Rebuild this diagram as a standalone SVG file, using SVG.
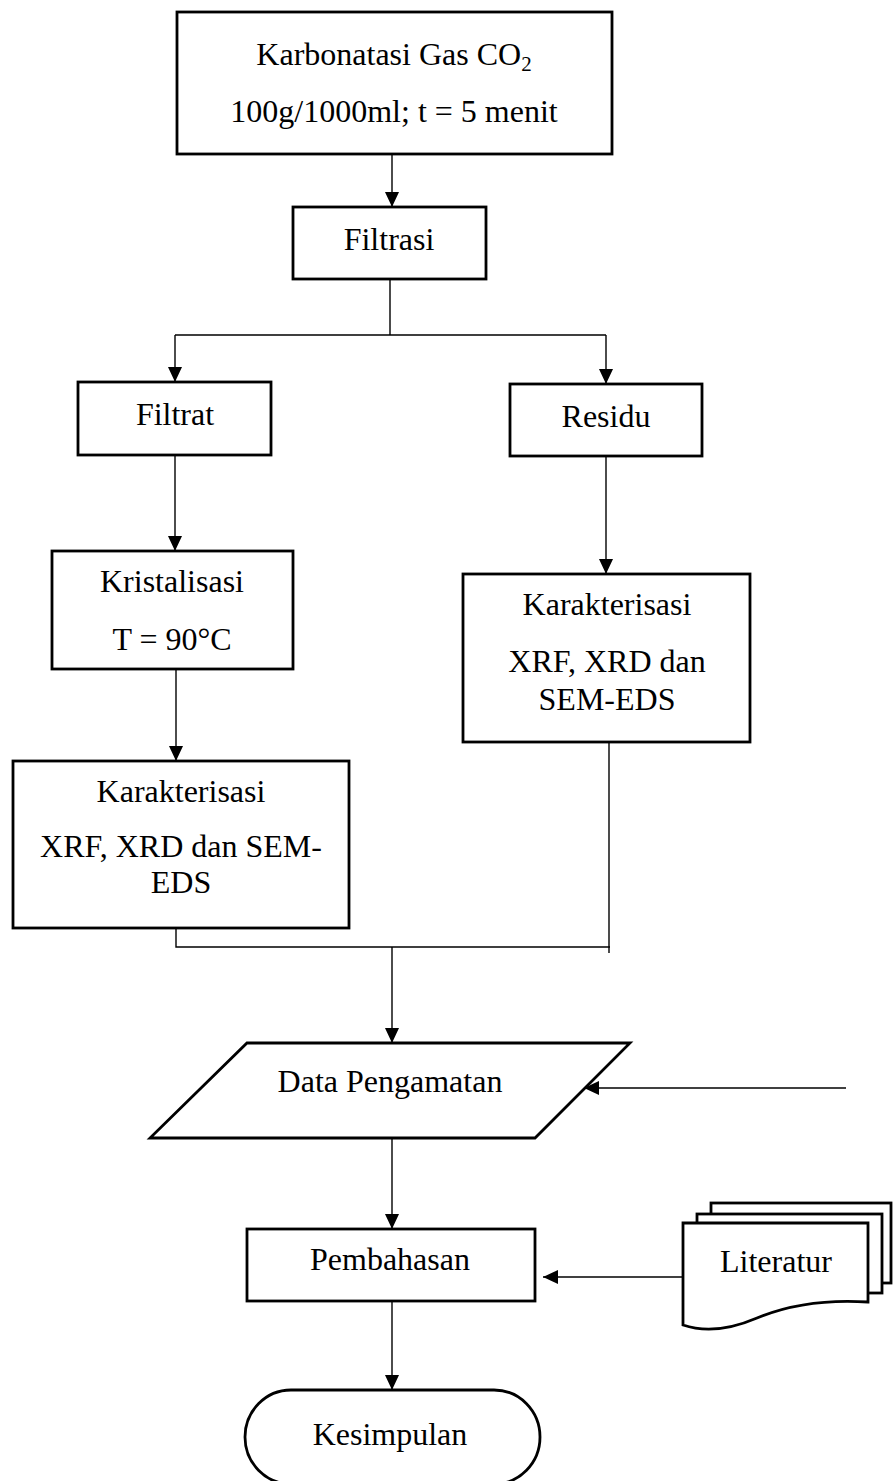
<svg xmlns="http://www.w3.org/2000/svg" width="893" height="1481" viewBox="0 0 893 1481">
<style>
.box{fill:#fff;stroke:#000;stroke-width:2.8}
.ln{fill:none;stroke:#000;stroke-width:1.4}
.t{font-family:"Liberation Serif","Times New Roman",serif;font-size:32px;fill:#000;text-anchor:middle}
</style>
<defs>
<marker id="ah" viewBox="0 0 15 14" refX="15" refY="7" markerWidth="15" markerHeight="14" orient="auto" markerUnits="userSpaceOnUse">
<path d="M0,0 L15,7 L0,14 z" fill="#000"/>
</marker>
</defs>
<rect width="893" height="1481" fill="#fff"/>
<g id="connectors">
<path class="ln" d="M392,152 V207" marker-end="url(#ah)"/>
<path class="ln" d="M390,277 V335 M175,335 H606"/>
<path class="ln" d="M175,335 V382" marker-end="url(#ah)"/>
<path class="ln" d="M606,335 V384" marker-end="url(#ah)"/>
<path class="ln" d="M175,455 V551" marker-end="url(#ah)"/>
<path class="ln" d="M606,456 V574" marker-end="url(#ah)"/>
<path class="ln" d="M176,665 V761" marker-end="url(#ah)"/>
<path class="ln" d="M176,922 V947 H610 M609,737 V953"/>
<path class="ln" d="M392,947 V1043" marker-end="url(#ah)"/>
<path class="ln" d="M846,1088 H584" marker-end="url(#ah)"/>
<path class="ln" d="M392,1133 V1229" marker-end="url(#ah)"/>
<path class="ln" d="M682,1277 H543" marker-end="url(#ah)"/>
<path class="ln" d="M392,1301 V1390" marker-end="url(#ah)"/>
</g>
<g id="karbonatasi">
<rect class="box" x="177" y="12" width="435" height="142"/>
<text class="t" x="394" y="65">Karbonatasi Gas CO<tspan font-size="21" dy="6">2</tspan></text>
<text class="t" x="394" y="122">100g/1000ml; t = 5 menit</text>
</g>
<g id="filtrasi">
<rect class="box" x="293" y="207" width="193" height="72"/>
<text class="t" x="389" y="250">Filtrasi</text>
</g>
<g id="filtrat">
<rect class="box" x="78" y="382" width="193" height="73"/>
<text class="t" x="175" y="425">Filtrat</text>
</g>
<g id="residu">
<rect class="box" x="510" y="384" width="192" height="72"/>
<text class="t" x="606" y="427">Residu</text>
</g>
<g id="kristalisasi">
<rect class="box" x="52" y="551" width="241" height="118"/>
<text class="t" x="172" y="592">Kristalisasi</text>
<text class="t" x="172" y="650">T = 90°C</text>
</g>
<g id="karakterisasi-residu">
<rect class="box" x="463" y="574" width="287" height="168"/>
<text class="t" x="607" y="615">Karakterisasi</text>
<text class="t" x="607" y="672">XRF, XRD dan</text>
<text class="t" x="607" y="710">SEM-EDS</text>
</g>
<g id="karakterisasi-filtrat">
<rect class="box" x="13" y="761" width="336" height="167"/>
<text class="t" x="181" y="802">Karakterisasi</text>
<text class="t" x="181" y="857">XRF, XRD dan SEM-</text>
<text class="t" x="181" y="893">EDS</text>
</g>
<g id="data-pengamatan">
<polygon class="box" points="247,1043 630,1043 535,1138 150,1138"/>
<text class="t" x="390" y="1092">Data Pengamatan</text>
</g>
<g id="pembahasan">
<rect class="box" x="247" y="1229" width="288" height="72"/>
<text class="t" x="390" y="1270">Pembahasan</text>
</g>
<g id="literatur">
<rect class="box" x="711" y="1203" width="180" height="80"/>
<rect class="box" x="697" y="1214" width="185" height="79"/>
<path class="box" d="M683,1223 H868 V1302 Q805,1298 757,1318 Q715,1336 683,1325 Z"/>
<text class="t" x="776" y="1272">Literatur</text>
</g>
<g id="kesimpulan">
<rect class="box" x="245" y="1390" width="295" height="94" rx="46" ry="47"/>
<text class="t" x="390" y="1445">Kesimpulan</text>
</g>
</svg>
